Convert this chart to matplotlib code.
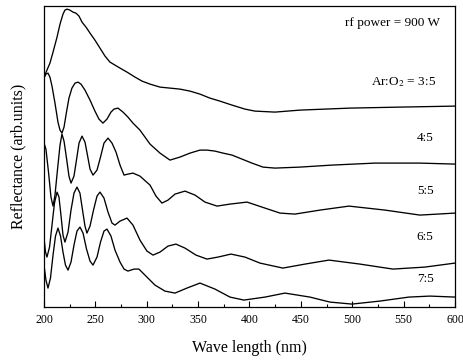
import matplotlib
matplotlib.use("Agg")
import matplotlib.pyplot as plt
from matplotlib.ticker import MultipleLocator

plt.rcParams['font.family'] = ['Liberation Serif', 'DejaVu Serif']
plt.rcParams['mathtext.fontset'] = 'stix'

# ---- data (wavelength in nm, reflectance in arbitrary units, offset stacked) ----
wl_35 = [200, 202.9, 205.8, 208.8, 212.7, 215.6, 218.5, 220.4, 222.4, 225.3, 228.2, 231.1, 234.1, 237.0,
         240.9, 244.8, 249.6, 254.5, 259.4, 264.2, 269.1, 274.0, 280.8, 288.6, 295.4, 303.2, 312.9, 322.6,
         332.3, 342.1, 351.8, 361.5, 371.2, 383.0, 395.6, 405.3, 424.8, 449.1, 497.7, 546.4, 600]
r_35 = [230, 237, 244, 255, 270, 283, 293, 297, 298, 297, 295, 294, 291, 285, 280, 274, 267, 259, 251, 245,
        242, 239, 235, 230, 226, 223, 220, 219, 218, 216, 213, 209, 206, 202, 198, 196, 195, 197, 199, 200, 201]

wl_45 = [200, 201.9, 203.9, 205.8, 207.8, 210.7, 213.6, 215.6, 217.5, 219.5, 221.9, 224.3, 227.2, 230.2,
         233.1, 236.0, 239.9, 244.8, 249.6, 253.5, 257.4, 261.3, 265.2, 268.1, 272.0, 276.9, 281.7, 286.6,
         293.4, 303.2, 312.9, 322.6, 332.3, 342.1, 351.8, 358.6, 366.4, 374.2, 383.0, 392.7, 402.4, 413.1,
         424.8, 449.1, 480.2, 522.1, 565.8, 600]
r_45 = [229, 233, 234, 230, 221, 204, 185, 177, 174, 180, 195, 209, 219, 224, 225, 223, 217, 207, 196, 188,
        184, 188, 195, 198, 199, 195, 190, 184, 177, 163, 154, 147, 150, 154, 157, 157, 156, 154, 152, 148,
        144, 140, 139, 140, 142, 144, 144, 143]

wl_55 = [200, 201.9, 204.4, 206.8, 208.8, 210.7, 213.1, 215.6, 217.5, 219.5, 221.9, 224.3, 226.3, 229.2,
         231.6, 234.1, 237.0, 239.9, 242.3, 244.8, 247.7, 251.6, 255.0, 258.4, 262.3, 266.2, 270.1, 274.0,
         277.9, 281.7, 286.6, 293.4, 303.2, 309.0, 314.8, 320.7, 327.5, 337.2, 347.0, 356.7, 368.4, 381.0,
         397.6, 415.1, 429.7, 444.3, 468.6, 496.8, 531.9, 565.9, 600]
r_55 = [164, 158, 135, 110, 101, 112, 137, 162, 173, 166, 149, 131, 124, 131, 147, 164, 171, 165, 152, 138,
        132, 137, 150, 164, 169, 164, 155, 142, 132, 133, 134, 131, 122, 111, 104, 107, 113, 116, 112, 105,
        101, 103, 105, 99, 94, 93, 97, 101, 97, 92, 94]

wl_65 = [200, 201.5, 202.9, 205.4, 207.8, 210.2, 212.7, 214.6, 216.5, 218.5, 220.4, 223.4, 226.3, 229.2,
         232.1, 235.0, 237.5, 239.9, 241.8, 244.8, 248.2, 251.6, 254.5, 258.4, 262.3, 266.2, 269.1, 274.0,
         280.8, 286.6, 293.4, 300.2, 306.1, 312.9, 320.7, 328.4, 337.2, 347.9, 358.6, 369.3, 382.0, 395.6,
         410.2, 432.5, 454.0, 477.3, 507.5, 539.6, 570.7, 600]
r_65 = [69, 55, 50, 60, 82, 104, 115, 110, 92, 72, 65, 75, 97, 114, 120, 114, 97, 81, 74, 81,
        97, 111, 115, 109, 95, 84, 82, 86, 89, 82, 67, 56, 52, 55, 61, 63, 59, 52, 48, 50,
        53, 50, 44, 39, 43, 47, 43, 38, 40, 44]

wl_75 = [200, 201.9, 203.9, 206.3, 208.8, 211.2, 213.6, 216.1, 218.5, 220.9, 223.4, 226.3, 229.2, 232.1,
         235.0, 238.0, 241.4, 244.8, 247.7, 251.6, 255.0, 258.4, 261.3, 265.2, 269.1, 274.0, 277.9, 281.7,
         287.6, 292.4, 300.2, 308.0, 317.7, 327.5, 339.1, 351.8, 366.4, 381.0, 394.6, 415.1, 434.5, 458.8,
         478.3, 499.7, 526.9, 555.1, 575.6, 600]
r_75 = [42, 27, 19, 29, 52, 71, 79, 71, 55, 42, 37, 45, 62, 76, 80, 74, 58, 46, 42, 50,
        65, 76, 78, 71, 57, 45, 38, 36, 38, 38, 30, 22, 16, 14, 19, 24, 18, 10, 7, 10,
        14, 10, 5, 3, 6, 10, 11, 10]

series = [(wl_35, r_35), (wl_45, r_45), (wl_55, r_55), (wl_65, r_65), (wl_75, r_75)]
labels = ["Ar:O$_2$ = 3:5", "4:5", "5:5", "6:5", "7:5"]
label_pos = [(582, 225, 'right'), (571, 169, 'center'), (571, 116, 'center'), (571, 70, 'center'), (571, 28, 'center')]
xticks = [200, 250, 300, 350, 400, 450, 500, 550, 600]

fig = plt.figure(figsize=(4.64, 3.6), dpi=100)
ax = fig.add_axes([0.0948, 0.147, 0.8858, 0.836])

for wl, r in series:
    ax.plot(wl, r, color='black', lw=0.95, solid_joinstyle='round')

ax.text(585, 284, "rf power = 900 W", ha='right', va='center', fontsize=9.5)
for lab, (x, y, ha) in zip(labels, label_pos):
    ax.text(x, y, lab, ha=ha, va='center', fontsize=9.5)

ax.set_xlim(200, 600)
ax.set_ylim(0, 301)
ax.set_xticks(xticks)
ax.set_xticklabels([str(t) for t in xticks], fontsize=8.5)
ax.xaxis.set_minor_locator(MultipleLocator(25))
ax.tick_params(axis='x', which='major', direction='in', length=4, width=0.8, pad=5)
ax.tick_params(axis='x', which='minor', direction='in', length=2.5, width=0.8)
ax.set_yticks([])
for s in ax.spines.values():
    s.set_linewidth(0.9)

ax.set_xlabel("Wave length (nm)", fontsize=11.5, labelpad=10)
ax.set_ylabel("Reflectance (arb.units)", fontsize=11.5, labelpad=13)

fig.savefig("out.png", dpi=100)
